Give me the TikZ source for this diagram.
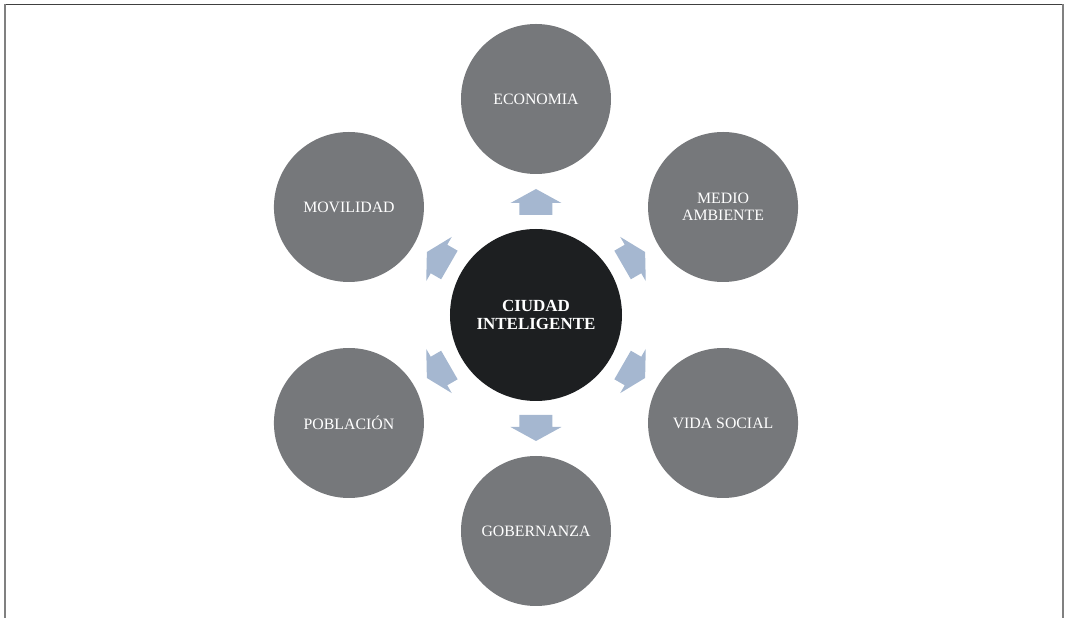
\documentclass[tikz,border=0pt]{standalone}
\usepackage{fontspec}
\setmainfont{Liberation Serif}
\usepackage{xcolor}
\usepackage{tikz}
\usetikzlibrary{positioning}
\definecolor{citygray}{RGB}{118,120,123}
\definecolor{citydark}{RGB}{29,31,33}
\definecolor{cityblue}{RGB}{165,183,208}

\begin{document}
\begin{tikzpicture}[
    core/.style={circle, fill=citydark, text=white, minimum size=5.16cm, inner sep=0pt, align=center, font=\fontsize{14.5}{15.5}\selectfont\bfseries},
    area/.style={circle, fill=citygray, text=white, minimum size=4.5cm, inner sep=0pt, align=center, font=\fontsize{13.5}{14.5}\selectfont},
    blockarrow/.style={fill=cityblue}
]
    \useasboundingbox (-16.08,-9.09) rectangle (15.87,9.45);
    % frame
    \draw[black!75, line width=0.6pt] (-15.93,9.33) -- (15.81,9.33);
    \draw[black!50, line width=1pt] (-15.93,-9.3) -- (-15.93,9.33);
    \draw[black!50, line width=1pt] (15.81,-9.3) -- (15.81,9.33);

    \node[core] (city) at (0,0) {CIUDAD\\INTELIGENTE};

    \node[area] (econ) at (90:6.48) {ECONOMIA};
    \node[area] (medio) at (30:6.48) {MEDIO\\AMBIENTE};
    \node[area] (vida) at (-30:6.48) {VIDA SOCIAL};
    \node[area] (gob) at (-90:6.48) {GOBERNANZA};
    \node[area] (pobl) at (210:6.48) {POBLACIÓN};
    \node[area] (movil) at (150:6.48) {MOVILIDAD};

    % block arrows between centre and areas
    \fill[blockarrow, rotate=90] (3.0,-0.495) -- (3.36,-0.495) -- (3.36,-0.765) -- (3.78,0) -- (3.36,0.765) -- (3.36,0.495) -- (3.0,0.495) -- cycle;
    \fill[blockarrow, rotate=30] (3.0,-0.495) -- (3.36,-0.495) -- (3.36,-0.765) -- (3.78,0) -- (3.36,0.765) -- (3.36,0.495) -- (3.0,0.495) -- cycle;
    \fill[blockarrow, rotate=-30] (3.0,-0.495) -- (3.36,-0.495) -- (3.36,-0.765) -- (3.78,0) -- (3.36,0.765) -- (3.36,0.495) -- (3.0,0.495) -- cycle;
    \fill[blockarrow, rotate=-90] (3.0,-0.495) -- (3.36,-0.495) -- (3.36,-0.765) -- (3.78,0) -- (3.36,0.765) -- (3.36,0.495) -- (3.0,0.495) -- cycle;
    \fill[blockarrow, rotate=210] (3.0,-0.495) -- (3.36,-0.495) -- (3.36,-0.765) -- (3.78,0) -- (3.36,0.765) -- (3.36,0.495) -- (3.0,0.495) -- cycle;
    \fill[blockarrow, rotate=150] (3.0,-0.495) -- (3.36,-0.495) -- (3.36,-0.765) -- (3.78,0) -- (3.36,0.765) -- (3.36,0.495) -- (3.0,0.495) -- cycle;
\end{tikzpicture}
\end{document}
